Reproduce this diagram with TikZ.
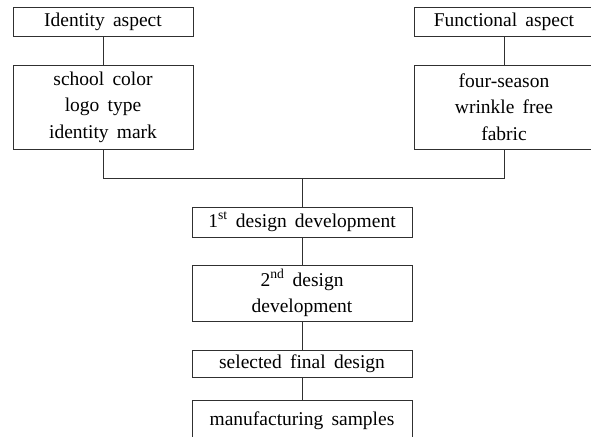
\documentclass[tikz,border=0pt]{standalone}
\usepackage{fontspec}
\setmainfont{Liberation Serif}
\usepackage{tikz}
\usetikzlibrary{positioning}
\definecolor{cline}{HTML}{303030}
\newcommand{\boxfont}{\fontsize{19.5}{26.5}\selectfont\spaceskip=0.42em\relax}
\tikzset{box/.style={draw=cline,line width=0.9pt,align=center,inner sep=0pt,
    font=\boxfont},
  con/.style={draw=cline,line width=0.9pt}}

\begin{document}
\begin{tikzpicture}[x=1pt,y=-1pt]
\clip (0,0) rectangle (591,436);

% ===== two aspects =====
\node[box,minimum width=180pt,minimum height=29pt] (ida) at (103,21.5) {Identity aspect};
\node[box,minimum width=180pt,minimum height=84pt] (idb) at (103,107) {school color\\logo type\\identity mark};
\node[box,minimum width=180pt,minimum height=29pt] (fna) at (504,21.5) {Functional aspect};
\node[box,minimum width=180pt,minimum height=84pt] (fnb) at (504,107) {four-season\\wrinkle free\\fabric};

% ===== design steps =====
\node[box,minimum width=220pt,minimum height=30pt] (d1) at (302,222) {1\textsuperscript{st} design development};
\node[box,minimum width=220pt,minimum height=56pt] (d2) at (302,293) {2\textsuperscript{nd} design\\development};
\node[box,minimum width=220pt,minimum height=27pt] (fin) at (302,363.5) {selected final design};
\node[box,minimum width=220pt,minimum height=46pt,anchor=north] (mfg) at (302,400) {\raisebox{10pt}{manufacturing samples}};

% ===== connectors =====
\coordinate (jn) at (302,178);
\draw[con] (ida) -- (idb);
\draw[con] (fna) -- (fnb);
\draw[con] (idb) |- (jn);
\draw[con] (fnb) |- (jn);
\draw[con] (jn) -- (d1);
\draw[con] (d1) -- (d2);
\draw[con] (d2) -- (fin);
\draw[con] (fin) -- (mfg);

\end{tikzpicture}
\end{document}
